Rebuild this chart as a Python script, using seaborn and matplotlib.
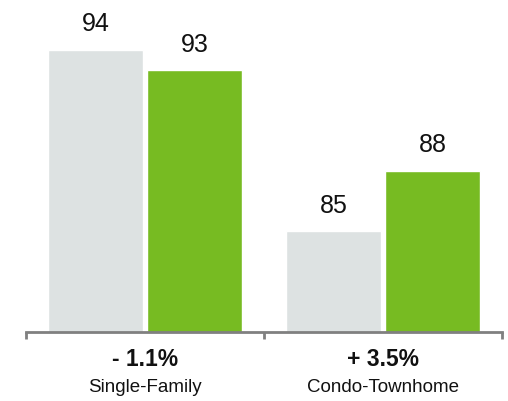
import matplotlib
matplotlib.use("Agg")
import matplotlib.pyplot as plt
import pandas as pd
import seaborn as sns

categories = ["Single-Family", "Condo-Townhome"]
prior_year = [94, 85]
current_year = [93, 88]
change_labels = ["- 1.1%", "+ 3.5%"]

GRAY = "#dde2e2"
GREEN = "#77bb22"
AXIS = "#808080"

df = pd.DataFrame({
    "category": categories * 2,
    "period": ["prior"] * 2 + ["current"] * 2,
    "value": prior_year + current_year,
})

sns.set_style("white")
plt.rcParams["font.family"] = ["Liberation Sans", "DejaVu Sans"]

fig = plt.figure(figsize=(5.08, 4.01), dpi=100)
ax = fig.add_axes([26 / 508, 1 - 332 / 401, 476 / 508, 332 / 401])

sns.barplot(data=df, x="category", y="value", hue="period",
            palette=[GRAY, GREEN], width=0.835, gap=0.05,
            saturation=1, legend=False, ax=ax)

for container in ax.containers:
    ax.bar_label(container, fmt="%d", padding=10, fontsize=18,
                 color="#111111")

ax.set_xlim(-0.5, 1.5)
ax.set_ylim(80, 96.5)
ax.set_xlabel("")
ax.set_ylabel("")
ax.set_yticks([])
ax.set_xticks([0, 1])
ax.set_xticklabels([])
ax.set_xticks([-0.5, 0.5, 1.5], minor=True)
ax.tick_params(axis="x", which="major", length=0)
ax.tick_params(axis="x", which="minor", length=5, width=2, color=AXIS,
               direction="out", bottom=True)

for side in ["top", "left", "right"]:
    ax.spines[side].set_visible(False)
ax.spines["bottom"].set_color(AXIS)
ax.spines["bottom"].set_linewidth(2)

trans = ax.get_xaxis_transform()
for i, (cat, chg) in enumerate(zip(categories, change_labels)):
    ax.text(i, -27 / 332, chg, transform=trans, ha="center", va="center",
            fontsize=16.5, fontweight="bold", color="#111111")
    ax.text(i, -56 / 332, cat, transform=trans, ha="center", va="center",
            fontsize=13.5, color="#111111")

fig.savefig("out.png", dpi=100)
